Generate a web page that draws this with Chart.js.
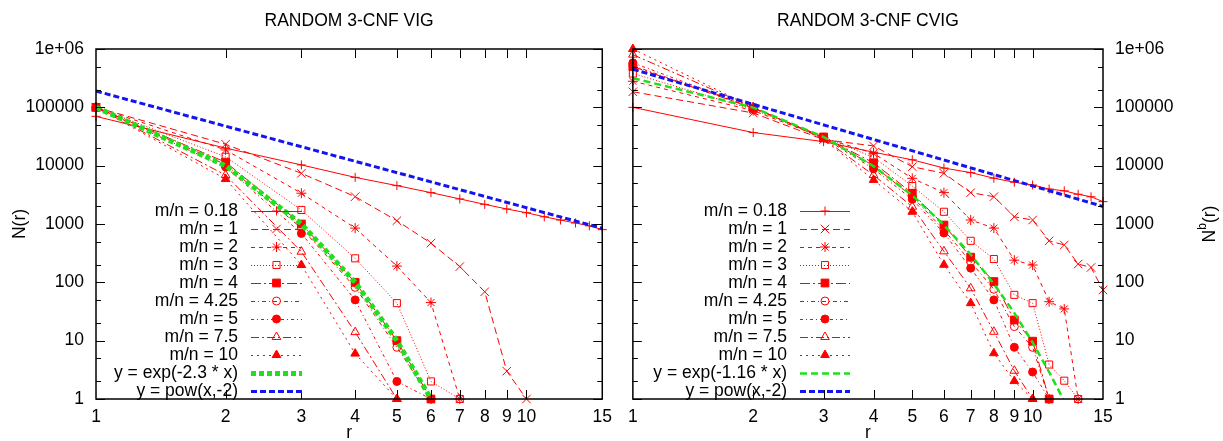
<!DOCTYPE html>
<html lang="en">
<head>
<meta charset="UTF-8">
<title>Random 3-CNF VIG / CVIG</title>
<script src="https://cdn.jsdelivr.net/npm/chart.js"></script>
<style>
  html, body { margin: 0; padding: 0; background: #fff; }
  #wrap { position: relative; width: 1223px; height: 441px; }
  canvas { position: absolute; top: 0; }
  #vig { left: 0; }
  #cvig { left: 620px; }
</style>
</head>
<body>
<div id="wrap">
  <canvas id="vig" width="620" height="441"></canvas>
  <canvas id="cvig" width="603" height="441"></canvas>
</div>
<script>
// axis values
const rVals = [1, 2, 3, 4, 5, 6, 7, 8, 9, 10, 11, 12, 13, 14, 15];
const xTicks = [1, 2, 3, 4, 5, 6, 7, 8, 9, 10, 15];
const yTicks = [1, 10, 100, 1000, 10000, 100000, 1000000];
const mnLabels = ['m/n = 0.18', 'm/n = 1', 'm/n = 2', 'm/n = 3', 'm/n = 4',
                  'm/n = 4.25', 'm/n = 5', 'm/n = 7.5', 'm/n = 10'];

// left panel: VIG, N(r) for r = 1, 2, 3, ...
const vig018 = [70000, 20000, 10300, 6300, 4550, 3450, 2690, 2170, 1810, 1560, 1330, 1170, 1040, 930, 800];
const vig1   = [100000, 23300, 7400, 2940, 1140, 470, 186, 69, 3, 1];
const vig2   = [100000, 18600, 3370, 850, 190, 45, 1];
const vig3   = [100000, 14200, 1740, 258, 44, 2, 1];
const vig4   = [100000, 11500, 1000, 100, 10, 1];
const vig425 = [100000, 10500, 850, 82, 7.7, 1];
const vig5   = [100000, 9500, 690, 50, 2, 1];
const vig75  = [100000, 6900, 335, 14, 1];
const vig10  = [100000, 5900, 198, 6, 1];
const vigExp = [100000, 10000, 1000, 100, 10, 1];
const powR   = [1, 15];
const vigPow = [190000, 845];

// right panel: CVIG, N^b(r)
const cvig018 = [100000, 37000, 25800, 17000, 12600, 9100, 7600, 6100, 5200, 4660, 3970, 3700, 3230, 2930, 2420];
const cvig1   = [185000, 80000, 28000, 21800, 9600, 7400, 3450, 2940, 1330, 1170, 515, 437, 206, 180, 74];
const cvig2   = [280000, 88000, 30000, 16300, 6070, 3450, 1170, 850, 240, 198, 46.6, 35, 1];
const cvig3   = [380000, 92000, 31000, 13900, 4470, 1620, 515, 251, 61, 44, 3.9, 2.06, 1];
const cvig4   = [500000, 97000, 31000, 11200, 3370, 960, 270, 103, 22.6, 9.8, 1];
const cvig425 = [520000, 98000, 30500, 10000, 2940, 790, 225, 76, 17.4, 7.7, 1];
const cvig5   = [580000, 98000, 30000, 8800, 2650, 700, 175, 50, 7.7, 2.9, 1];
const cvig75  = [800000, 100000, 29000, 6900, 1980, 340, 79, 14.2, 3.05, 1];
const cvig10  = [1000000, 100000, 28500, 5700, 1620, 200, 44, 6.1, 2.03, 1];
const cvigExp = [317000, 99000, 31000, 9800, 3100, 960, 300, 94, 30, 9.3, 2.9, 0.91];
const cvigPow = [450000, 2000];

const RED = '#ff0000';
const GREEN = '#1ee01e';
const BLUE = '#1414ee';
const FAMILY = '"Liberation Sans", Arial, Helvetica, sans-serif';
const FS = 17.5;

// gnuplot-like point and dash types, one per m/n series
const markStyles = [
  { pointStyle: 'cross',    radius: 4.5, filled: false, dash: [] },
  { pointStyle: 'crossRot', radius: 6,   filled: false, dash: [7, 4] },
  { pointStyle: 'star',     radius: 5,   filled: false, dash: [4, 4] },
  { pointStyle: 'rect',     radius: 5,   filled: false, dash: [1, 2] },
  { pointStyle: 'rect',     radius: 5.5, filled: true,  dash: [10, 3, 2, 3] },
  { pointStyle: 'circle',   radius: 4,   filled: false, dash: [4, 3, 1, 3] },
  { pointStyle: 'circle',   radius: 4,   filled: true,  dash: [3, 3, 1, 3] },
  { pointStyle: 'triangle', radius: 5,   filled: false, dash: [8, 3, 2, 3] },
  { pointStyle: 'triangle', radius: 5,   filled: true,  dash: [2, 4] }
];

function pts(xs, ys) {
  return ys.map((y, i) => ({ x: xs[i], y: y }));
}

function redSet(label, ys, st, i) {
  return {
    label: label,
    data: pts(rVals, ys),
    borderColor: RED,
    borderWidth: 1,
    borderDash: st.dash,
    pointStyle: st.pointStyle,
    pointRadius: st.radius,
    pointBorderWidth: 1,
    pointBorderColor: RED,
    pointBackgroundColor: st.filled ? RED : 'rgba(0,0,0,0)',
    fill: false,
    tension: 0,
    clip: false,
    order: 20 - i
  };
}

function buildSets(series, expVals, expLabel, expStyle, powVals) {
  const sets = series.map((ys, i) => redSet(mnLabels[i], ys, markStyles[i], i));
  sets.push(Object.assign({
    label: expLabel,
    data: pts(rVals, expVals),
    borderColor: GREEN,
    pointRadius: 0,
    fill: false,
    tension: 0,
    borderCapStyle: 'butt',
    order: 2
  }, expStyle));
  sets.push({
    label: 'y = pow(x,-2)',
    data: pts(powR, powVals),
    borderColor: BLUE,
    borderWidth: 3,
    borderDash: [6, 3],
    borderCapStyle: 'butt',
    pointRadius: 0,
    fill: false,
    tension: 0,
    order: 1
  });
  return sets;
}

function drawMark(ctx, ds, x, y) {
  if (!ds.pointRadius) return;
  ctx.setLineDash([]);
  ctx.lineWidth = ds.pointBorderWidth || 1;
  ctx.strokeStyle = ds.pointBorderColor;
  ctx.fillStyle = ds.pointBackgroundColor;
  Chart.helpers.drawPoint(ctx, { pointStyle: ds.pointStyle, radius: ds.pointRadius, rotation: 0, borderWidth: 1 }, x, y);
}

// border, inward ticks, titles and gnuplot style key
function makeDecor(cfg) {
  return {
    id: 'decor',
    afterDraw(chart) {
      const ctx = chart.ctx, a = chart.chartArea;
      const xs = chart.scales.x, ys = chart.scales.y;
      ctx.save();
      ctx.strokeStyle = '#000';
      ctx.lineWidth = 1;
      ctx.beginPath();
      xTicks.forEach(v => {
        if (v <= 1 || v >= 15) return;
        const px = Math.round(xs.getPixelForValue(v)) + 0.5;
        ctx.moveTo(px, a.bottom); ctx.lineTo(px, a.bottom - 9);
        ctx.moveTo(px, a.top); ctx.lineTo(px, a.top + 9);
      });
      yTicks.forEach((v, k) => {
        const py = Math.round(ys.getPixelForValue(v)) + 0.5;
        ctx.moveTo(a.left, py); ctx.lineTo(a.left + 9, py);
        ctx.moveTo(a.right, py); ctx.lineTo(a.right - 9, py);
        if (k < yTicks.length - 1) {
          [2, 5].forEach(m => {
            const pm = Math.round(ys.getPixelForValue(v * m)) + 0.5;
            ctx.moveTo(a.left, pm); ctx.lineTo(a.left + 5, pm);
            ctx.moveTo(a.right, pm); ctx.lineTo(a.right - 5, pm);
          });
        }
      });
      ctx.stroke();
      ctx.lineWidth = 1.5;
      ctx.strokeRect(a.left, a.top, a.right - a.left, a.bottom - a.top);

      ctx.fillStyle = '#000';
      ctx.font = FS + 'px ' + FAMILY;
      ctx.textAlign = 'center';
      ctx.textBaseline = 'middle';
      const cx = (a.left + a.right) / 2;
      ctx.fillText(cfg.title, cx, 21);
      ctx.fillText('r', cx, 433);

      // y axis title, rotated
      ctx.save();
      ctx.translate(cfg.yTitleX, (a.top + a.bottom) / 2);
      ctx.rotate(-Math.PI / 2);
      ctx.textAlign = 'left';
      const big = FS + 'px ' + FAMILY, small = '12px ' + FAMILY;
      ctx.font = big;
      const wN = ctx.measureText('N').width, wR = ctx.measureText('(r)').width;
      ctx.font = small;
      const wB = cfg.sup ? ctx.measureText('b').width : 0;
      let x0 = -(wN + wB + wR) / 2;
      ctx.font = big;
      ctx.fillText('N', x0, 0); x0 += wN;
      if (cfg.sup) { ctx.font = small; ctx.fillText('b', x0, -7); x0 += wB; ctx.font = big; }
      ctx.fillText('(r)', x0, 0);
      ctx.restore();

      // key
      chart.data.datasets.forEach((ds, i) => {
        const y = 211 + 18 * i;
        ctx.font = FS + 'px ' + FAMILY;
        ctx.fillStyle = '#000';
        ctx.textAlign = 'right';
        ctx.textBaseline = 'middle';
        ctx.fillText(ds.label, cfg.keyText, y);
        ctx.beginPath();
        ctx.setLineDash(ds.borderDash || []);
        ctx.lineCap = 'butt';
        ctx.lineWidth = ds.borderWidth;
        ctx.strokeStyle = ds.borderColor;
        ctx.moveTo(cfg.keyX1, y + 0.5);
        ctx.lineTo(cfg.keyX2, y + 0.5);
        ctx.stroke();
        drawMark(ctx, ds, (cfg.keyX1 + cfg.keyX2) / 2, y);
      });
      ctx.restore();
    }
  };
}

function makeChart(id, sets, side, padding, yWidth, cfg) {
  const tickFont = { family: FAMILY, size: FS };
  return new Chart(document.getElementById(id), {
    type: 'line',
    data: { datasets: sets },
    options: {
      responsive: false,
      animation: false,
      devicePixelRatio: 1,
      layout: { padding: padding },
      plugins: { legend: { display: false }, tooltip: { enabled: false } },
      scales: {
        x: {
          type: 'logarithmic',
          min: 1, max: 15,
          grid: { display: false, drawTicks: false },
          border: { display: false },
          afterBuildTicks: s => { s.ticks = xTicks.map(v => ({ value: v })); },
          afterFit: s => { s.height = 42; },
          ticks: {
            autoSkip: false, maxRotation: 0, minRotation: 0,
            padding: 8, color: '#000', font: tickFont,
            callback: v => String(v)
          }
        },
        y: {
          type: 'logarithmic',
          position: side,
          min: 1, max: 1000000,
          grid: { display: false, drawTicks: false },
          border: { display: false },
          afterBuildTicks: s => { s.ticks = yTicks.map(v => ({ value: v })); },
          afterFit: s => { s.width = yWidth; },
          ticks: {
            padding: 12, color: '#000', font: tickFont,
            callback: v => (v === 1000000 ? '1e+06' : String(v))
          }
        }
      }
    },
    plugins: [makeDecor(cfg)]
  });
}

makeChart('vig',
  buildSets([vig018, vig1, vig2, vig3, vig4, vig425, vig5, vig75, vig10], vigExp,
    'y = exp(-2.3 * x)', { borderWidth: 5, borderDash: [5, 3] }, vigPow),
  'left', { top: 49, right: 11, left: 0, bottom: 0 }, 96,
  { title: 'RANDOM 3-CNF VIG', yTitleX: 20, sup: false, keyText: 238, keyX1: 251, keyX2: 302 });

makeChart('cvig',
  buildSets([cvig018, cvig1, cvig2, cvig3, cvig4, cvig425, cvig5, cvig75, cvig10], cvigExp,
    'y = exp(-1.16 * x)', { borderWidth: 2.5, borderDash: [7, 4] }, cvigPow),
  'right', { top: 49, right: 0, left: 9, bottom: 0 }, 120,
  { title: 'RANDOM 3-CNF CVIG', yTitleX: 590, sup: true, keyText: 167, keyX1: 180, keyX2: 230 });
</script>
</body>
</html>
